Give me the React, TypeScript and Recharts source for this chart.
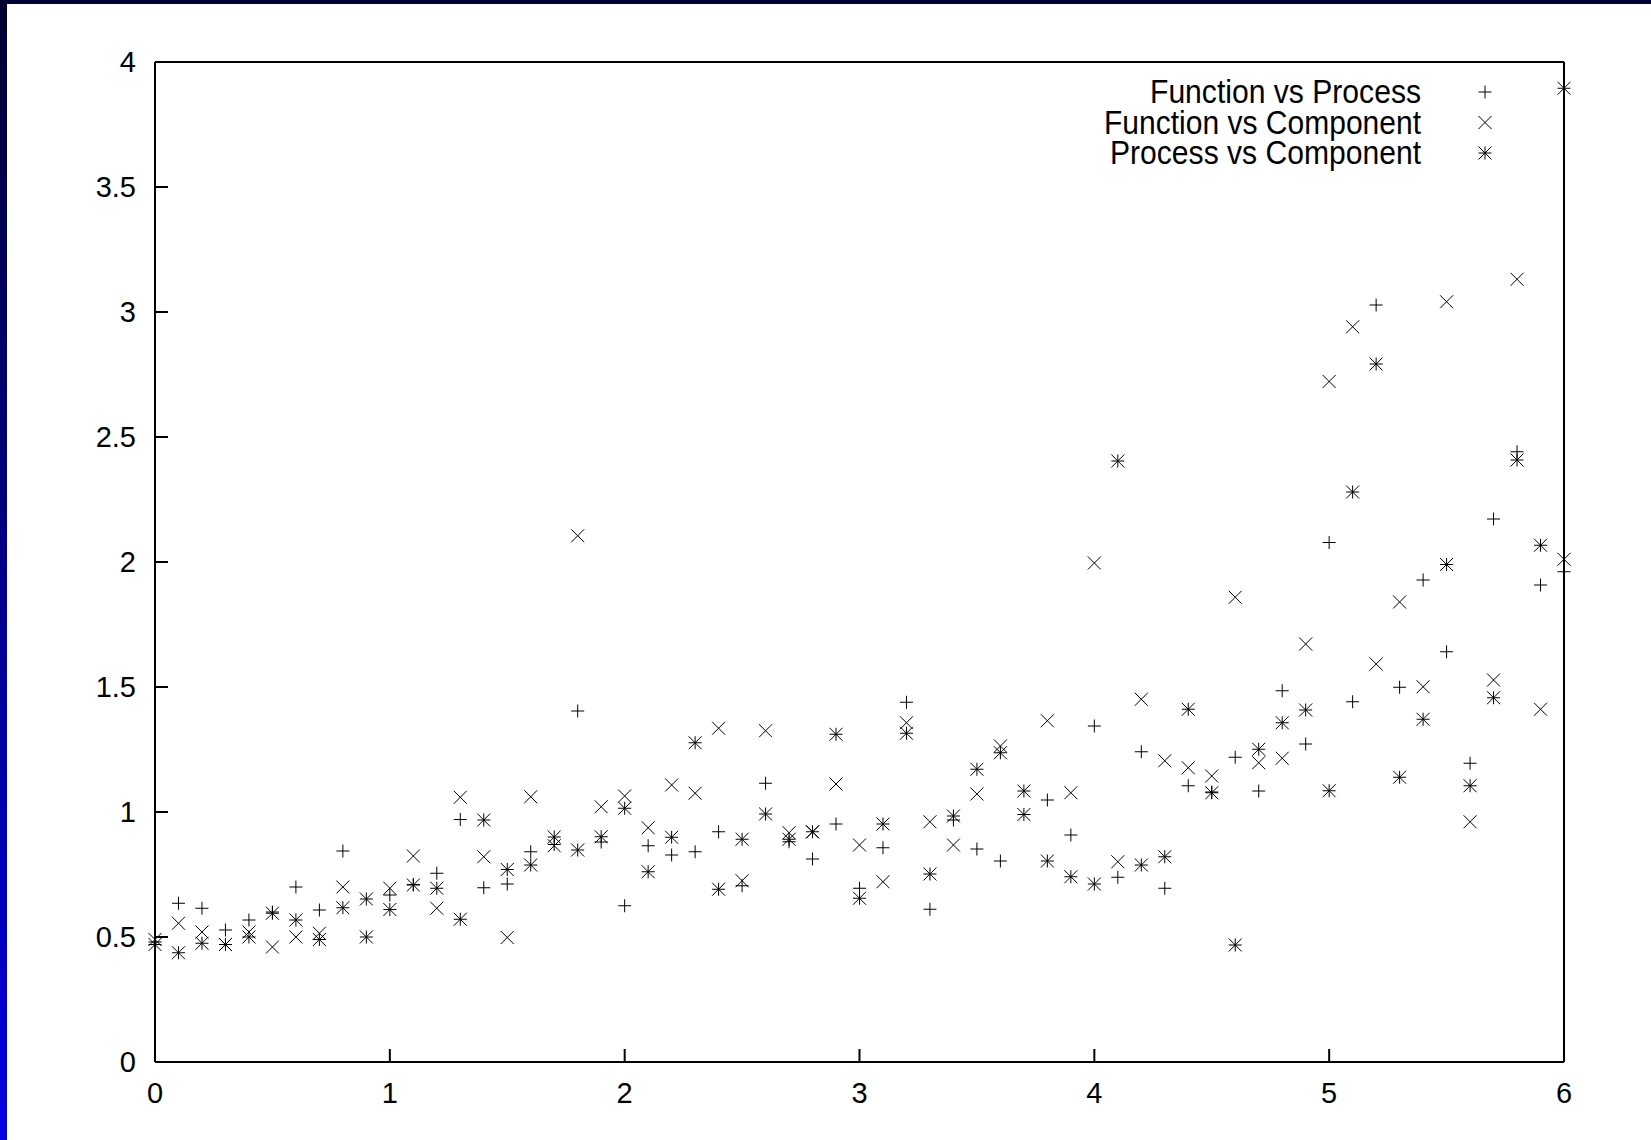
import React from "react";
import { ScatterChart, Scatter, XAxis, YAxis } from "recharts";

const xs = [
  0, 0.1, 0.2, 0.3, 0.4, 0.5, 0.6, 0.7, 0.8, 0.9,
  1, 1.1, 1.2, 1.3, 1.4, 1.5, 1.6, 1.7, 1.8, 1.9,
  2, 2.1, 2.2, 2.3, 2.4, 2.5, 2.6, 2.7, 2.8, 2.9,
  3, 3.1, 3.2, 3.3, 3.4, 3.5, 3.6, 3.7, 3.8, 3.9,
  4, 4.1, 4.2, 4.3, 4.4, 4.5, 4.6, 4.7, 4.8, 4.9,
  5, 5.1, 5.2, 5.3, 5.4, 5.5, 5.6, 5.7, 5.8, 5.9,
  6,
];

const functionVsProcess = [
  0.48, 0.635, 0.615, 0.528, 0.568, 0.6, 0.7, 0.608, 0.844, 0.5,
  0.668, 0.71, 0.755, 0.97, 0.697, 0.712, 0.841, 0.87, 1.404, 0.88,
  0.625, 0.865, 0.828, 0.841, 0.921, 0.705, 1.115, 0.881, 0.812, 0.952,
  0.695, 0.857, 1.439, 0.611, 0.968, 0.852, 0.804, 0.99, 1.048, 0.908,
  1.344, 0.739, 1.241, 0.695, 1.105, 1.08, 1.219, 1.084, 1.485, 1.272,
  2.078, 1.441, 3.028, 1.499, 1.928, 1.641, 1.195, 2.172, 2.441, 1.908,
  1.961,
];

const functionVsComponent = [
  0.49, 0.555, 0.52, 0.47, 0.52, 0.46, 0.5, 0.515, 0.7, 0.5,
  0.695, 0.824, 0.615, 1.059, 0.821, 0.498, 1.061, 0.865, 2.105, 1.021,
  1.064, 0.937, 1.108, 1.075, 1.335, 0.725, 1.325, 0.917, 0.92, 1.112,
  0.868, 0.721, 1.357, 0.961, 0.868, 1.072, 1.264, 0.99, 1.365, 1.077,
  1.996, 0.801, 1.451, 1.205, 1.177, 1.144, 1.859, 1.197, 1.215, 1.672,
  2.722, 2.941, 1.592, 1.84, 1.501, 3.041, 0.961, 1.528, 3.131, 1.411,
  2.011,
];

const processVsComponent = [
  0.47, 0.437, 0.475, 0.47, 0.5, 0.595, 0.568, 0.49, 0.617, 0.652,
  0.61, 0.708, 0.695, 0.571, 0.968, 0.77, 0.788, 0.9, 0.848, 0.901,
  1.015, 0.761, 0.899, 1.277, 0.691, 0.891, 0.992, 0.891, 0.921, 1.311,
  0.655, 0.952, 1.315, 0.752, 0.984, 1.171, 1.237, 1.084, 0.804, 0.741,
  0.712, 2.404, 0.788, 0.821, 1.411, 1.077, 0.468, 1.251, 1.357, 1.408,
  1.085, 2.28, 2.792, 1.139, 1.371, 1.99, 1.105, 1.457, 2.408, 2.067,
  3.895,
];

const xTicks = [0, 1, 2, 3, 4, 5, 6];
const yTicks = [0, 0.5, 1, 1.5, 2, 2.5, 3, 3.5, 4];

const seriesNames = ["Function vs Process", "Function vs Component", "Process vs Component"];
const seriesKinds = ["plus", "cross", "star"];

const toPoints = (ys: number[]) => xs.map((x, i) => ({ x, y: ys[i] }));

const FONT = "'Liberation Sans', Arial, Helvetica, sans-serif";
const R = 6.5;

function Marker({ cx, cy, kind }: { cx: number; cy: number; kind: string }) {
  if (cx == null || cy == null) return null;
  const plus = (
    <>
      <line x1={cx - R} y1={cy} x2={cx + R} y2={cy} />
      <line x1={cx} y1={cy - R} x2={cx} y2={cy + R} />
    </>
  );
  const cross = (
    <>
      <line x1={cx - R} y1={cy - R} x2={cx + R} y2={cy + R} />
      <line x1={cx - R} y1={cy + R} x2={cx + R} y2={cy - R} />
    </>
  );
  return (
    <g stroke="#000" strokeWidth={1} fill="none">
      {kind !== "cross" && plus}
      {kind !== "plus" && cross}
    </g>
  );
}

const tickStyle = { fill: "#000", fontSize: 29, fontFamily: FONT };
const lineStyle = { stroke: "#000", strokeWidth: 2 };

function KeyBox() {
  const rows = [
    { y: 92, len: 271 },
    { y: 122.5, len: 317 },
    { y: 153, len: 311 },
  ];
  return (
    <svg
      width={1651}
      height={1140}
      style={{ position: "absolute", left: 0, top: 0, pointerEvents: "none" }}
    >
      {rows.map((r, i) => (
        <g key={seriesNames[i]}>
          <text
            x={1421}
            y={r.y + 11}
            textAnchor="end"
            fontSize={33}
            fontFamily={FONT}
            fill="#000"
            textLength={r.len}
            lengthAdjust="spacingAndGlyphs"
          >
            {seriesNames[i]}
          </text>
          <Marker cx={1485} cy={r.y} kind={seriesKinds[i]} />
        </g>
      ))}
    </svg>
  );
}

export default function App() {
  const all = [functionVsProcess, functionVsComponent, processVsComponent];
  return (
    <div
      style={{
        position: "fixed",
        left: 0,
        top: 0,
        width: 1651,
        height: 1140,
        background: "#fff",
        overflow: "hidden",
      }}
    >
      <div
        style={{
          position: "absolute",
          left: 0,
          top: 0,
          width: 7,
          height: 1140,
          background: "linear-gradient(#000030, #0000e0)",
        }}
      />
      <div
        style={{ position: "absolute", left: 0, top: 0, width: 1651, height: 4, background: "#000036" }}
      />
      <div style={{ position: "absolute", left: 0, top: 0 }}>
        <ScatterChart width={1651} height={1140} margin={{ top: 52, right: 77, bottom: 18, left: 0 }}>
          <XAxis
            xAxisId={0}
            dataKey="x"
            type="number"
            domain={[0, 6]}
            ticks={xTicks}
            height={60}
            tick={tickStyle}
            tickSize={-13}
            tickMargin={33}
            axisLine={lineStyle}
            tickLine={lineStyle}
          />
          <XAxis
            xAxisId="top"
            orientation="top"
            type="number"
            domain={[0, 6]}
            ticks={xTicks}
            height={10}
            tickSize={-13}
            tickFormatter={() => ""}
            axisLine={lineStyle}
            tickLine={lineStyle}
          />
          <YAxis
            yAxisId={0}
            dataKey="y"
            type="number"
            domain={[0, 4]}
            ticks={yTicks}
            width={155}
            tick={tickStyle}
            tickSize={-13}
            tickMargin={32}
            axisLine={lineStyle}
            tickLine={lineStyle}
          />
          <YAxis
            yAxisId="right"
            orientation="right"
            type="number"
            domain={[0, 4]}
            ticks={yTicks}
            width={10}
            tickSize={-13}
            tickFormatter={() => ""}
            axisLine={lineStyle}
            tickLine={lineStyle}
          />
          {all.map((ys, i) => (
            <Scatter
              key={seriesNames[i]}
              name={seriesNames[i]}
              data={toPoints(ys)}
              xAxisId={0}
              yAxisId={0}
              isAnimationActive={false}
              shape={(p: any) => <Marker cx={p.cx} cy={p.cy} kind={seriesKinds[i]} />}
            />
          ))}
        </ScatterChart>
      </div>
      <KeyBox />
    </div>
  );
}
